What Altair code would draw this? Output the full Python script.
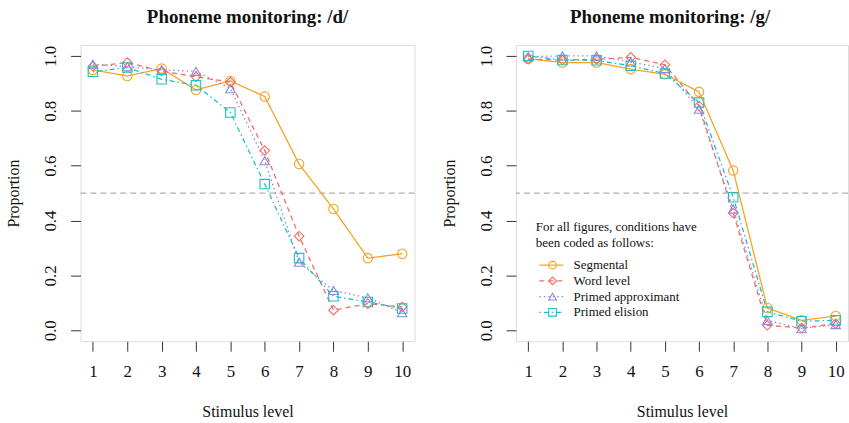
import altair as alt
import pandas as pd

stimulus = [1, 2, 3, 4, 5, 6, 7, 8, 9, 10]
y_ticks = [0.0, 0.2, 0.4, 0.6, 0.8, 1.0]
conditions = ["Segmental", "Word level", "Primed approximant", "Primed elision"]
colors = ["#F5A425", "#FA6A62", "#8F87E2", "#22BEC6"]
dashes = [[1, 0], [5, 4], [1.5, 3], [1.5, 3, 5, 3]]
shapes = ["circle", "diamond", "triangle-up", "square"]

# Phoneme monitoring: /d/
d_segmental = [0.949, 0.927, 0.954, 0.876, 0.909, 0.852, 0.606, 0.442, 0.263, 0.279]
d_word = [0.962, 0.976, 0.945, 0.924, 0.905, 0.655, 0.343, 0.073, 0.097, 0.085]
d_approx = [0.970, 0.961, 0.949, 0.944, 0.881, 0.618, 0.248, 0.145, 0.118, 0.064]
d_elision = [0.942, 0.958, 0.915, 0.893, 0.794, 0.533, 0.263, 0.124, 0.103, 0.079]

# Phoneme monitoring: /g/
g_segmental = [0.990, 0.976, 0.976, 0.952, 0.933, 0.869, 0.582, 0.081, 0.036, 0.052]
g_word = [0.988, 0.985, 0.988, 0.995, 0.968, 0.818, 0.427, 0.018, 0.008, 0.024]
g_approx = [0.998, 1.000, 1.000, 0.978, 0.954, 0.806, 0.442, 0.036, 0.006, 0.021]
g_elision = [1.000, 0.985, 0.984, 0.964, 0.936, 0.830, 0.485, 0.067, 0.033, 0.036]

reference_level = [0.5]

FONT = "Liberation Serif"


def make_df(series):
    rows = []
    for cond, vals in zip(conditions, series):
        for s, v in zip(stimulus, vals):
            rows.append({"condition": cond, "stimulus": s, "value": v})
    return pd.DataFrame(rows)


df_d = make_df([d_segmental, d_word, d_approx, d_elision])
df_g = make_df([g_segmental, g_word, g_approx, g_elision])
df_ref = pd.DataFrame({"ref": reference_level})

x_axis = alt.Axis(
    values=stimulus, title="Stimulus level", domain=False, grid=False,
    tickSize=10, tickColor="#333333", tickWidth=1, labelPadding=12,
    labelFont=FONT, labelFontSize=17, labelColor="#111111",
    titleFont=FONT, titleFontSize=16, titleFontWeight="normal",
    titleColor="#111111", titlePadding=25,
)
y_axis = alt.Axis(
    values=y_ticks, format=".1f", title="Proportion", domain=False, grid=False,
    tickSize=10, tickColor="#333333", tickWidth=1, labelPadding=11,
    labelAngle=270, labelAlign="center", labelBaseline="bottom",
    labelFont=FONT, labelFontSize=17, labelColor="#111111",
    titleFont=FONT, titleFontSize=16, titleFontWeight="normal",
    titleColor="#111111", titlePadding=20,
)
x_scale = alt.Scale(domain=[0.64, 10.36], nice=False, zero=False)
y_scale = alt.Scale(domain=[-0.04, 1.04], nice=False, zero=False)

legend_title = ["For all figures, conditions have", "been coded as follows:"]
blank_title = [" ", " "]
LINE_SYMBOL = "M-0.59,0L4.21,0"


def panel(df, title, width, show_legend, dx=0):
    X = alt.X("stimulus:Q", scale=x_scale, axis=x_axis)
    Y = alt.Y("value:Q", scale=y_scale, axis=y_axis)

    common_legend = dict(
        orient="none", titleFont=FONT, titleFontSize=13,
        titleFontWeight="normal", titleColor="#111111", titleLineHeight=16,
        titlePadding=9, labelFont=FONT, labelFontSize=13, labelColor="#111111",
        padding=0, rowPadding=1.8, legendY=177,
    )
    if show_legend:
        line_legend = alt.Legend(
            title=legend_title, legendX=20, symbolType=LINE_SYMBOL,
            symbolSize=100, symbolStrokeWidth=1.3, labelOffset=25,
            **common_legend,
        )
        point_legend = alt.Legend(
            title=blank_title, legendX=30.3, symbolSize=60,
            symbolStrokeWidth=1.1, labelOffset=12, labelExpr="' '",
            **common_legend,
        )
    else:
        line_legend = None
        point_legend = None

    rule = alt.Chart(df_ref).mark_rule(
        color="#9a9a9a", strokeDash=[6, 4], strokeWidth=1
    ).encode(y=alt.Y("ref:Q", scale=y_scale, axis=y_axis))

    lines = alt.Chart(df).mark_line(strokeWidth=1.3).encode(
        x=X, y=Y,
        color=alt.Color("condition:N", scale=alt.Scale(domain=conditions, range=colors), legend=line_legend),
        strokeDash=alt.StrokeDash("condition:N", scale=alt.Scale(domain=conditions, range=dashes), legend=line_legend),
    )
    points = alt.Chart(df).mark_point(filled=False, size=90, strokeWidth=1.1, opacity=1).encode(
        x=X, y=Y,
        color=alt.Color("condition:N", scale=alt.Scale(domain=conditions, range=colors), legend=point_legend),
        shape=alt.Shape("condition:N", scale=alt.Scale(domain=conditions, range=shapes), legend=point_legend),
    )
    title_params = alt.TitleParams(
        title, font=FONT, fontSize=19, fontWeight="bold", color="#111111",
        offset=18, anchor="middle", dx=dx,
    )
    return alt.layer(rule, lines, points).resolve_scale(
        color="independent", shape="independent", strokeDash="independent"
    ).properties(width=width, height=298, title=title_params)


left = panel(df_d, "Phoneme monitoring: /d/", 336, False)
right = panel(df_g, "Phoneme monitoring: /g/", 334, True, dx=-12)

chart = alt.hconcat(left, right, spacing=25).resolve_scale(
    color="independent", shape="independent", strokeDash="independent"
).properties(
    padding={"left": 5, "top": 6, "right": 0, "bottom": 0}
).configure_view(stroke="#333333", strokeWidth=1.2).configure(background="white")

chart.save("out.html", embed_options={"renderer": "svg", "actions": False})
